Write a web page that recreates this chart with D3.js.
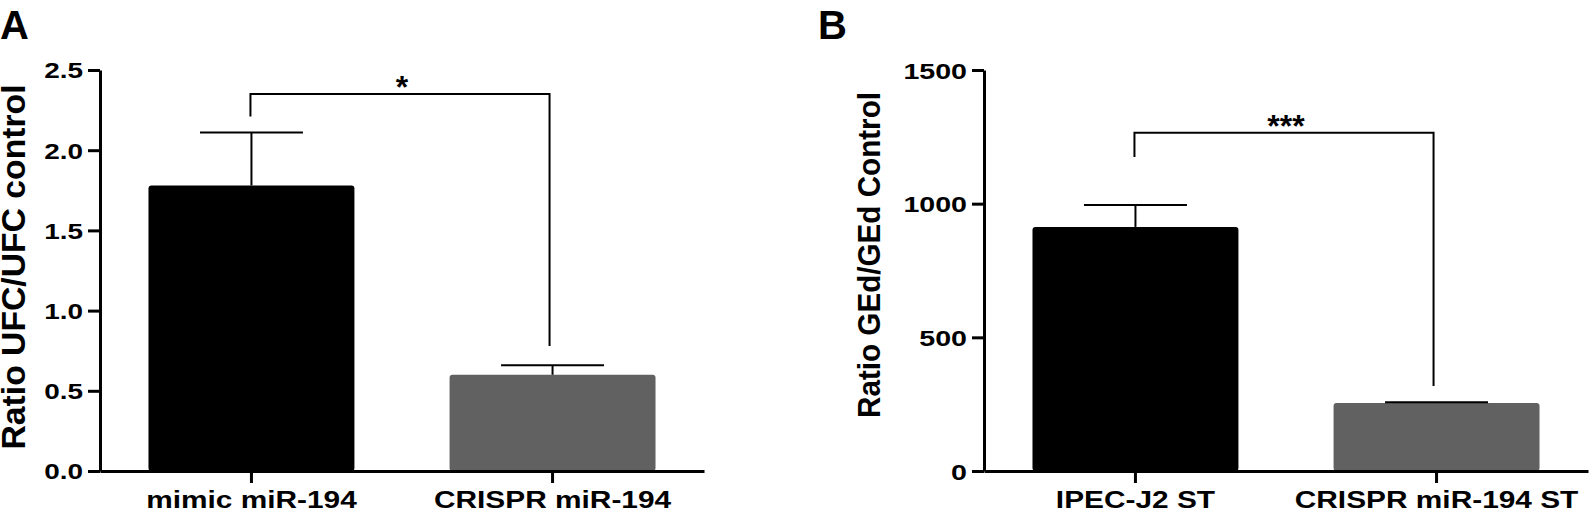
<!DOCTYPE html>
<html>
<head>
<meta charset="utf-8">
<script src="https://cdn.jsdelivr.net/npm/d3@7"></script>
<style>
  body { margin: 0; background: #fff; }
  svg text { font-family: "Liberation Sans", Arial, sans-serif; font-weight: bold; fill: #000; }
</style>
</head>
<body>
<div id="chart"></div>
<script>
/**
 * DATA
 * */
// panel A
const groups_A = ["mimic miR-194", "CRISPR miR-194"];
const means_A = [1.78, 0.6];
const errors_A = [0.33, 0.06];
const ticks_A = [0, 0.5, 1.0, 1.5, 2.0, 2.5];
const bracket_A = [2.35, 2.21, 0.78]; // top, left end, right end
const star_A = "*";

// panel B
const groups_B = ["IPEC-J2 ST", "CRISPR miR-194 ST"];
const means_B = [913, 254];
const errors_B = [82, 3];
const ticks_B = [0, 500, 1000, 1500];
const bracket_B = [1265, 1175, 318];
const star_B = "***";

const barColors = ["#000000", "#616161"];

let width = 1594,
  height = 512;

// the original figure is a bit wider than tall, text gets stretched too
const SX = 1.27;

const svg = d3
  .select("#chart")
  .append("svg")
  .attr("width", width)
  .attr("height", height);

function stretch(sel) {
  sel.each(function () {
    const w = this.getComputedTextLength();
    d3.select(this)
      .attr("textLength", w * SX)
      .attr("lengthAdjust", "spacingAndGlyphs");
  });
}

function drawPanel(p) {
  const g = svg.append("g");

  // SCALES
  const xScale = d3
    .scaleBand()
    .domain(p.groups)
    .range([p.left, p.left + 604])
    .paddingInner(0.316)
    .paddingOuter(0.161);

  const yScale = d3
    .scaleLinear()
    .domain([0, p.ticks[p.ticks.length - 1]])
    .range([471, 70]);

  const rows = p.groups.map((name, i) => ({
    name: name,
    mean: p.means[i],
    err: p.errors[i],
    color: barColors[i],
  }));

  // bars
  g.selectAll(".bar")
    .data(rows)
    .join("rect")
    .attr("class", "bar")
    .attr("x", (d) => xScale(d.name))
    .attr("width", xScale.bandwidth())
    .attr("y", (d) => yScale(d.mean))
    .attr("height", (d) => yScale(0) - yScale(d.mean))
    .attr("rx", 3)
    .attr("fill", (d) => d.color);

  // error bars (upper only)
  const cx = (d) => xScale(d.name) + xScale.bandwidth() / 2;
  g.selectAll(".err")
    .data(rows)
    .join("line")
    .attr("class", "err")
    .attr("stroke", "#000")
    .attr("stroke-width", 2)
    .attr("x1", cx)
    .attr("x2", cx)
    .attr("y1", (d) => yScale(d.mean))
    .attr("y2", (d) => yScale(d.mean + d.err));

  g.selectAll(".cap")
    .data(rows)
    .join("line")
    .attr("class", "cap")
    .attr("stroke", "#000")
    .attr("stroke-width", 2)
    .attr("x1", (d) => cx(d) - xScale.bandwidth() / 4)
    .attr("x2", (d) => cx(d) + xScale.bandwidth() / 4)
    .attr("y1", (d) => yScale(d.mean + d.err))
    .attr("y2", (d) => yScale(d.mean + d.err));

  // AXES
  const yAxis = d3
    .axisLeft(yScale)
    .tickValues(p.ticks)
    .tickFormat(p.fmt)
    .tickSize(12)
    .tickSizeOuter(0)
    .tickPadding(5);

  const xAxis = d3.axisBottom(xScale).tickSize(12).tickSizeOuter(0);

  const yG = g
    .append("g")
    .attr("class", "axis y-axis")
    .attr("transform", `translate(${p.left},0)`)
    .call(yAxis);
  yG.selectAll("path, line").attr("stroke", "#000").attr("stroke-width", 3);
  yG.selectAll("text")
    .attr("font-size", p.tickFont)
    .attr("dy", "0.36em")
    .call(stretch);

  const xG = g
    .append("g")
    .attr("class", "axis x-axis")
    .attr("transform", `translate(0,${yScale(0)})`)
    .call(xAxis);
  xG.selectAll("path, line").attr("stroke", "#000").attr("stroke-width", 3);
  xG.selectAll("text")
    .attr("font-size", 23.5)
    .attr("y", 37)
    .attr("dy", "0")
    .call(stretch);

  // y label
  g.append("text")
    .attr("class", "axis-label")
    .attr("transform", `translate(${p.labelX},${p.labelY}) rotate(-90)`)
    .attr("text-anchor", "middle")
    .attr("font-size", p.labelFont)
    .attr("textLength", p.labelLen)
    .attr("lengthAdjust", "spacingAndGlyphs")
    .text(p.yLabel);

  // panel letter
  g.append("text")
    .attr("x", p.letterX)
    .attr("y", 39)
    .attr("font-size", 40)
    .text(p.letter);

  // significance bracket
  const b = p.bracket;
  const x0 = cx(rows[0]) - 1,
    x1 = cx(rows[1]) - 3;
  g.append("path")
    .attr("fill", "none")
    .attr("stroke", "#000")
    .attr("stroke-width", 2)
    .attr(
      "d",
      d3.line()([
        [x0, yScale(b[1])],
        [x0, yScale(b[0])],
        [x1, yScale(b[0])],
        [x1, yScale(b[2])],
      ])
    );

  g.append("text")
    .attr("x", (x0 + x1) / 2 + 2)
    .attr("y", yScale(b[0]) + 4)
    .attr("text-anchor", "middle")
    .attr("font-size", 32)
    .text(p.star);
}

drawPanel({
  groups: groups_A,
  means: means_A,
  errors: errors_A,
  ticks: ticks_A,
  bracket: bracket_A,
  star: star_A,
  fmt: d3.format(".1f"),
  left: 100,
  tickFont: 22,
  yLabel: "Ratio UFC/UFC control",
  labelX: 25,
  labelY: 267,
  labelFont: 33,
  labelLen: 365,
  letter: "A",
  letterX: 0,
});

drawPanel({
  groups: groups_B,
  means: means_B,
  errors: errors_B,
  ticks: ticks_B,
  bracket: bracket_B,
  star: star_B,
  fmt: d3.format("d"),
  left: 984,
  tickFont: 22.5,
  yLabel: "Ratio GEd/GEd Control",
  labelX: 880,
  labelY: 255,
  labelFont: 30.5,
  labelLen: 326,
  letter: "B",
  letterX: 818,
});
</script>
</body>
</html>
